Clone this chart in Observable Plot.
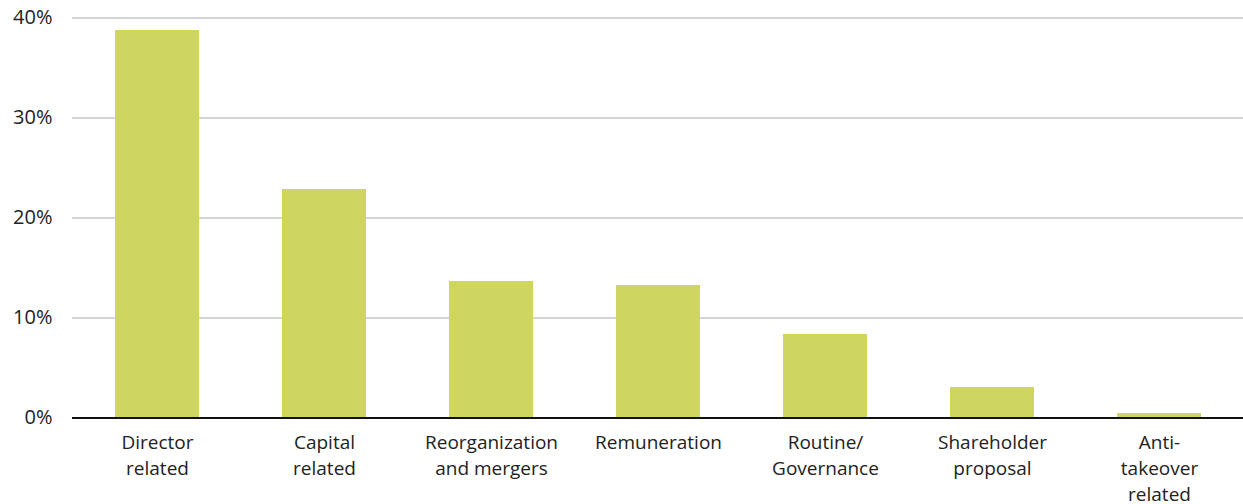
<!DOCTYPE html>
<html>
<head>
<meta charset="utf-8">
<script src="https://cdn.jsdelivr.net/npm/d3@7"></script>
<script src="https://cdn.jsdelivr.net/npm/@observablehq/plot@0.6"></script>
<style>
  html, body { margin: 0; padding: 0; background: #fff; }
  svg { display: block; }
</style>
</head>
<body>
<div id="chart"></div>
<script>
const categories = [
  "Director\nrelated",
  "Capital\nrelated",
  "Reorganization\nand mergers",
  "Remuneration",
  "Routine/\nGovernance",
  "Shareholder\nproposal",
  "Anti-\ntakeover\nrelated"
];
const shares = [38.75, 22.85, 13.65, 13.25, 8.35, 3.05, 0.45];
const yTicks = [0, 10, 20, 30, 40];

const data = categories.map((c, i) => ({category: c, value: shares[i]}));

const chart = Plot.plot({
  width: 1243,
  height: 504,
  marginLeft: 72,
  marginRight: 0,
  marginTop: 17.5,
  marginBottom: 86.5,
  style: {fontFamily: "'Open Sans', sans-serif", fontSize: "19px", color: "#222", background: "#fff"},
  x: {domain: categories, paddingInner: 0.5, paddingOuter: 0.25, label: null},
  y: {domain: [0, 40], label: null},
  marks: [
    Plot.gridY(yTicks.filter(d => d > 0), {stroke: "#c4c4c4", strokeOpacity: 1, strokeWidth: 1.5}),
    Plot.barY(data, {x: "category", y: "value", fill: "#cfd660"}),
    Plot.ruleY([0], {stroke: "#111", strokeWidth: 2}),
    Plot.axisY({ticks: yTicks, tickSize: 0, tickPadding: 20, tickFormat: d => d + "%", fontSize: 20, label: null}),
    Plot.axisX({tickSize: 0, tickPadding: 12, lineHeight: 1.38, label: null, fontSize: 19})
  ]
});
document.getElementById("chart").appendChild(chart);
</script>
</body>
</html>
